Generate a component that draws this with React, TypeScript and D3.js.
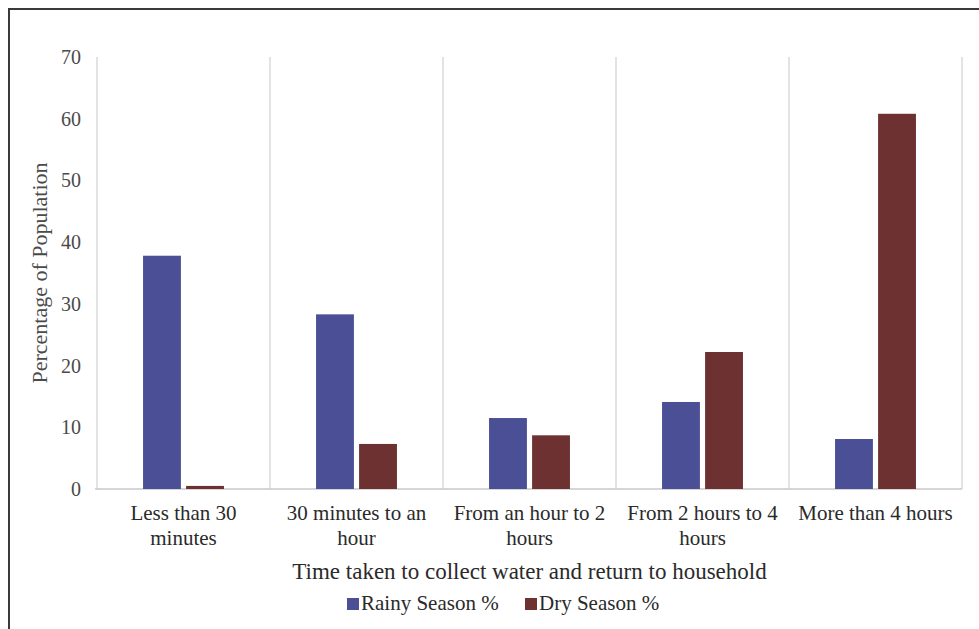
import React, { useEffect, useRef } from 'react';
import * as d3 from 'd3';

// categories (wrapped as in the source)
const categories = [
  'Less than 30 minutes',
  '30 minutes to an hour',
  'From an hour to 2 hours',
  'From 2 hours to 4 hours',
  'More than 4 hours',
];
const categoryLines = [
  ['Less than 30', 'minutes'],
  ['30 minutes to an', 'hour'],
  ['From an hour to 2', 'hours'],
  ['From 2 hours to 4', 'hours'],
  ['More than 4 hours'],
];
const seriesNames = ['Rainy Season %', 'Dry Season %'];
const rainy = [37.8, 28.3, 11.5, 14.1, 8.1];
const dry = [0.5, 7.3, 8.7, 22.2, 60.8];
const yTicks = [0, 10, 20, 30, 40, 50, 60, 70];
const colors = ['#4b4f96', '#6d3132'];

const W = 979;
const H = 629;
const margin = { top: 57, right: 17, bottom: 140, left: 97 };

const App: React.FC = () => {
  const svgRef = useRef<SVGSVGElement>(null);

  useEffect(() => {
    if (!svgRef.current) return;
    const svg = d3.select(svgRef.current);
    svg.selectAll('*').remove();

    const font = '"Liberation Serif", "Times New Roman", serif';
    const x0 = margin.left;
    const x1 = W - margin.right;
    const yBase = H - margin.bottom;

    const x = d3.scaleBand<string>().domain(categories).range([x0, x1]).padding(0);
    const xs = d3.scaleBand<string>().domain(seriesNames).range([0, x.bandwidth()])
      .paddingInner(0.12).paddingOuter(1.07);
    const y = d3.scaleLinear().domain([0, 70]).range([yBase, margin.top]);

    svg.append('rect').attr('width', W).attr('height', H).attr('fill', '#fff');

    // outer frame (top and left edges visible)
    svg.append('path')
      .attr('d', `M9,${H} L9,9 L${W},9`)
      .attr('fill', 'none')
      .attr('stroke', '#3a3a3a')
      .attr('stroke-width', 2);

    // vertical separators
    const bounds = categories.map(c => x(c)!).concat([x1]);
    svg.append('g').selectAll('line')
      .data(bounds)
      .enter().append('line')
      .attr('x1', d => d).attr('x2', d => d)
      .attr('y1', y(70)).attr('y2', yBase)
      .attr('stroke', '#d0d0d0')
      .attr('stroke-width', 1.2);

    // baseline
    svg.append('line')
      .attr('x1', x0 - 2).attr('x2', x1)
      .attr('y1', yBase).attr('y2', yBase)
      .attr('stroke', '#c8c8c8')
      .attr('stroke-width', 1.5);

    // bars
    const data = [rainy, dry];
    data.forEach((vals, si) => {
      svg.append('g').selectAll('rect')
        .data(vals)
        .enter().append('rect')
        .attr('x', (d, i) => x(categories[i])! + xs(seriesNames[si])!)
        .attr('width', xs.bandwidth())
        .attr('y', d => y(d))
        .attr('height', d => yBase - y(d))
        .attr('fill', colors[si]);
    });

    // y tick labels
    svg.append('g').selectAll('text')
      .data(yTicks)
      .enter().append('text')
      .attr('x', 81)
      .attr('y', d => y(d))
      .attr('dy', '0.35em')
      .attr('text-anchor', 'end')
      .attr('font-family', font)
      .attr('font-size', 20)
      .attr('fill', '#4a4a4a')
      .text(d => d);

    // y axis title
    svg.append('text')
      .attr('transform', `translate(47,${(yBase + y(70)) / 2}) rotate(-90)`)
      .attr('text-anchor', 'middle')
      .attr('font-family', font)
      .attr('font-size', 22)
      .attr('fill', '#4a4a4a')
      .text('Percentage of Population');

    // category labels
    categories.forEach((c, i) => {
      const t = svg.append('text')
        .attr('x', x(c)! + x.bandwidth() / 2)
        .attr('y', 520)
        .attr('text-anchor', 'middle')
        .attr('font-family', font)
        .attr('font-size', 21)
        .attr('fill', '#2a2a2a');
      categoryLines[i].forEach((ln, li) => {
        t.append('tspan')
          .attr('x', x(c)! + x.bandwidth() / 2)
          .attr('dy', li === 0 ? 0 : 25)
          .text(ln);
      });
    });

    // x axis title
    svg.append('text')
      .attr('x', (x0 + x1) / 2)
      .attr('y', 579)
      .attr('text-anchor', 'middle')
      .attr('font-family', font)
      .attr('font-size', 23)
      .attr('fill', '#2a2a2a')
      .text('Time taken to collect water and return to household');

    // legend
    const legendX = [347, 525];
    seriesNames.forEach((s, i) => {
      svg.append('rect')
        .attr('x', legendX[i]).attr('y', 598)
        .attr('width', 12).attr('height', 12)
        .attr('fill', colors[i]);
      svg.append('text')
        .attr('x', legendX[i] + 14)
        .attr('y', 610)
        .attr('font-family', font)
        .attr('font-size', 21)
        .attr('fill', '#2a2a2a')
        .text(s);
    });
  }, []);

  return (
    <div style={{ position: 'absolute', left: 0, top: 0 }}>
      <svg ref={svgRef} width={W} height={H} style={{ display: 'block' }}></svg>
    </div>
  );
};

export default App;
